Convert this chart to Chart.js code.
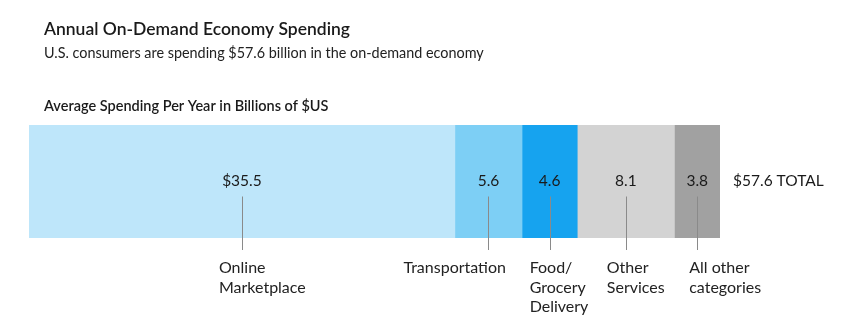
<!DOCTYPE html>
<html>
<head>
<meta charset="utf-8">
<script src="https://cdn.jsdelivr.net/npm/chart.js@4.4.0/dist/chart.umd.min.js"></script>
<style>
    html, body { margin: 0; padding: 0; background: #fff; }
    #wrap { width: 850px; height: 333px; position: relative; }
</style>
</head>
<body>
<div id="wrap"><canvas id="spendChart"></canvas></div>
<script>
// Chart data
const categories = ['Online|Marketplace', 'Transportation', 'Food/|Grocery|Delivery', 'Other|Services', 'All other|categories'];
const values = [35.5, 5.6, 4.6, 8.1, 3.8];
const valueLabels = ['$35.5', '5.6', '4.6', '8.1', '3.8'];
const totalLabel = '$57.6 TOTAL';
const colors = ['#bee6fa', '#7dcff5', '#16a3ef', '#d3d3d3', '#a1a1a1'];

const FONT = 'Lato, "Open Sans", sans-serif';

// how far the category text starts left of its leader line
const labelShift = [23, 85, 20, 19, 8];

const annotations = {
    id: 'annotations',
    afterDraw(chart) {
        const ctx = chart.ctx;
        const x = chart.scales.x;
        const area = chart.chartArea;
        const midY = (area.top + area.bottom) / 2;

        ctx.save();
        // headings
        ctx.fillStyle = '#1a1a1a';
        ctx.textAlign = 'left';
        ctx.textBaseline = 'alphabetic';
        ctx.font = '600 17.5px ' + FONT;
        ctx.fillText('Annual On-Demand Economy Spending', 44, 35);
        ctx.font = '14.4px ' + FONT;
        ctx.fillStyle = '#222';
        ctx.fillText('U.S. consumers are spending $57.6 billion in the on-demand economy', 44, 58);
        ctx.font = '600 14.5px ' + FONT;
        ctx.fillStyle = '#1a1a1a';
        ctx.fillText('Average Spending Per Year in Billions of $US', 44, 111);

        let start = 0;
        values.forEach((v, i) => {
            const cx = x.getPixelForValue(start + v / 2);
            start += v;

            ctx.font = '15.5px ' + FONT;
            ctx.fillStyle = '#1a1a1a';
            ctx.textAlign = 'center';
            ctx.textBaseline = 'alphabetic';
            ctx.fillText(valueLabels[i], cx, 186);

            ctx.strokeStyle = '#8a8a8a';
            ctx.lineWidth = 1;
            ctx.beginPath();
            ctx.moveTo(Math.round(cx) + 0.5, midY + 15);
            ctx.lineTo(Math.round(cx) + 0.5, area.bottom + 12);
            ctx.stroke();

            ctx.textAlign = 'left';
            ctx.fillStyle = '#222';
            ctx.font = '16px ' + FONT;
            categories[i].split('|').forEach((line, j) => {
                ctx.fillText(line, cx - labelShift[i], area.bottom + 35 + j * 19.5);
            });
        });

        ctx.textAlign = 'left';
        ctx.font = '15.5px ' + FONT;
        ctx.fillStyle = '#1a1a1a';
        ctx.fillText(totalLabel, area.right + 13, 186);
        ctx.restore();
    }
};

new Chart(document.getElementById('spendChart'), {
    type: 'bar',
    data: {
        labels: ['Spending'],
        datasets: values.map((v, i) => ({
            label: categories[i].replace(/\|/g, ' '),
            data: [v],
            backgroundColor: colors[i],
            borderWidth: 0,
            barPercentage: 1,
            categoryPercentage: 1
        }))
    },
    options: {
        indexAxis: 'y',
        responsive: true,
        maintainAspectRatio: false,
        animation: false,
        layout: { padding: { left: 29, right: 130, top: 125, bottom: 95 } },
        plugins: {
            legend: { display: false },
            tooltip: { enabled: false }
        },
        scales: {
            x: { stacked: true, display: false, min: 0, max: 57.6 },
            y: { stacked: true, display: false }
        }
    },
    plugins: [annotations]
});
</script>
</body>
</html>
